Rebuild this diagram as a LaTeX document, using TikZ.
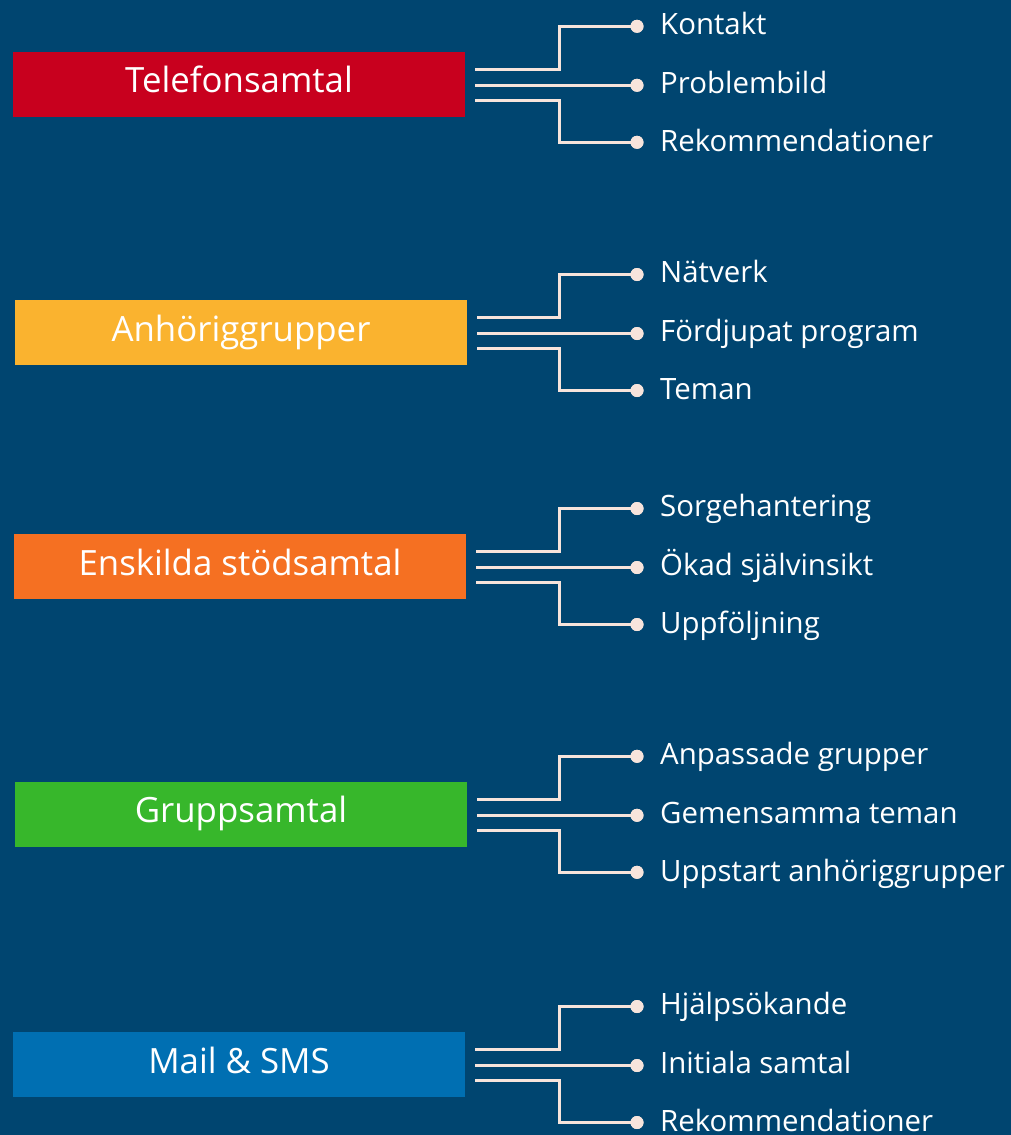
\documentclass[tikz,border=0pt]{standalone}
\usepackage{fontspec}
\setmainfont{Open Sans}
\definecolor{bg}{HTML}{004570}
\definecolor{cRed}{HTML}{C8001E}
\definecolor{cYellow}{HTML}{FAB32F}
\definecolor{cOrange}{HTML}{F57022}
\definecolor{cGreen}{HTML}{37B72B}
\definecolor{cBlue}{HTML}{006FB2}
\definecolor{lineCol}{HTML}{F7E4DC}
\tikzset{
  catbox/.style={draw=none, minimum width=452pt, minimum height=65pt, inner sep=0pt,
    text=white, font=\fontsize{34.8}{41}\selectfont, text height=25pt, text depth=8pt},
  dotnode/.style={circle, fill=lineCol, minimum size=13pt, inner sep=0pt},
  lbl/.style={anchor=base west, inner sep=0pt, text=white, font=\fontsize{29.4}{34}\selectfont},
  conn/.style={draw=lineCol, line width=3pt}
}
\begin{document}
\begin{tikzpicture}[x=1pt,y=-1pt]
\fill[bg] (0,0) rectangle (1011,1135);
\useasboundingbox (0,0) rectangle (1011,1135);
\foreach \i/\c/\bx/\col/\name/\la/\lb/\lc in {
  1/84.3/239/cRed/Telefonsamtal/Kontakt/Problembild/Rekommendationer,
  2/332.5/241/cYellow/Anhöriggrupper/Nätverk/Fördjupat program/Teman,
  3/566.5/240/cOrange/Enskilda stödsamtal/Sorgehantering/Ökad självinsikt/Uppföljning,
  4/814.3/241/cGreen/Gruppsamtal/Anpassade grupper/Gemensamma teman/Uppstart anhöriggrupper,
  5/1064.5/239/cBlue/Mail \& SMS/Hjälpsökande/Initiala samtal/Rekommendationer}{
  \node[catbox, fill=\col] (b\i) at (\bx,\c) {\name};
  \node[dotnode] (da\i) at (637,\c-58) {};
  \node[dotnode] (db\i) at (637,\c+1) {};
  \node[dotnode] (dc\i) at (637,\c+58) {};
  \draw[conn] ([shift={(10,-15)}]b\i.east) -| ([xshift=-78pt]da\i.center) -- (da\i.center);
  \draw[conn] ([shift={(10,1)}]b\i.east) -- (db\i.center);
  \draw[conn] ([shift={(10,16)}]b\i.east) -| ([xshift=-78pt]dc\i.center) -- (dc\i.center);
  \node[dotnode] at (da\i) {};
  \node[dotnode] at (db\i) {};
  \node[dotnode] at (dc\i) {};
  \node[lbl] (la\i) at (660,\c-50) {\la};
  \node[lbl] (lb\i) at (660,\c+9) {\lb};
  \node[lbl] (lc\i) at (660,\c+67) {\lc};
}
\end{tikzpicture}
\end{document}
